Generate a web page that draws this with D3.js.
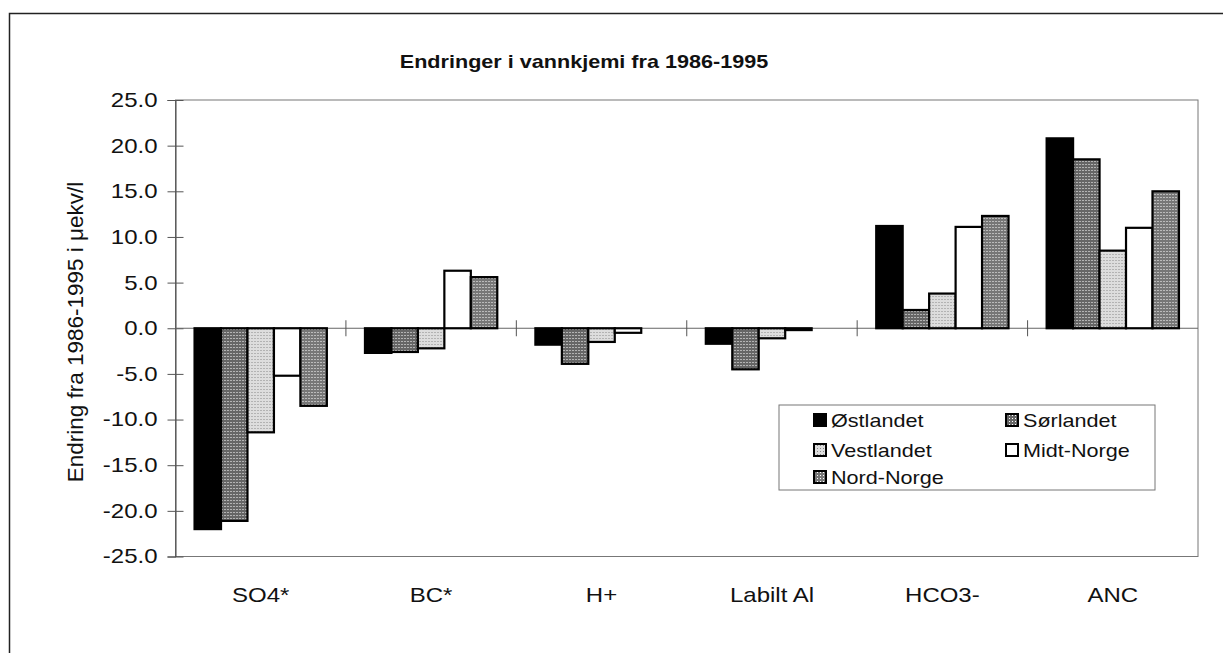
<!DOCTYPE html>
<html>
<head>
<meta charset="utf-8">
<script src="https://cdn.jsdelivr.net/npm/d3@7"></script>
<style>
  body { margin: 0; background: #fff; }
  text { font-family: "Liberation Sans", Arial, sans-serif; fill: #111; }
</style>
</head>
<body>
<div id="chart-area"></div>
<script>
// Data
const categories = ["SO4*", "BC*", "H+", "Labilt Al", "HCO3-", "ANC"]
const regions = ["Østlandet", "Sørlandet", "Vestlandet", "Midt-Norge", "Nord-Norge"]
const ostlandet = [-22.0, -2.7, -1.8, -1.7, 11.2, 20.8]
const sorlandet = [-21.1, -2.6, -3.9, -4.5, 2.0, 18.5]
const vestlandet = [-11.4, -2.2, -1.5, -1.1, 3.8, 8.5]
const midtNorge = [-5.2, 6.3, -0.5, -0.2, 11.1, 11.0]
const nordNorge = [-8.5, 5.6, 0.0, 0.0, 12.3, 15.0]
const yTicks = [-25, -20, -15, -10, -5, 0, 5, 10, 15, 20, 25]

const seriesValues = [ostlandet, sorlandet, vestlandet, midtNorge, nordNorge]

const W = 1223, H = 653
const margin = {left: 175.5, right: 25, top: 100, bottom: 96.5}
const width = W - margin.left - margin.right
const height = H - margin.top - margin.bottom
const sx = 1.2 // scan stretch of the glyphs

const svg = d3.select("#chart-area").append("svg")
    .attr("width", W)
    .attr("height", H)

// fill patterns (stippled greys)
const defs = svg.append("defs")
const stipple = (id, bg, dot) => {
    const p = defs.append("pattern")
        .attr("id", id)
        .attr("patternUnits", "userSpaceOnUse")
        .attr("width", 3).attr("height", 3)
    p.append("rect").attr("width", 3).attr("height", 3).attr("fill", bg)
    p.append("rect").attr("x", 1).attr("y", 1).attr("width", 1).attr("height", 1).attr("fill", dot)
}
stipple("pat-sor", "#666", "#fff")
stipple("pat-ves", "#ddd", "#888")
stipple("pat-nord", "#777", "#fff")
const fills = ["#000", "url(#pat-sor)", "url(#pat-ves)", "#fff", "url(#pat-nord)"]

// outer frame
svg.append("rect")
    .attr("x", 9.5).attr("y", 13.5)
    .attr("width", W + 20).attr("height", H + 20)
    .attr("fill", "none")
    .attr("stroke", "#222")
    .attr("stroke-width", 1.5)

// title
svg.append("text")
    .attr("transform", `translate(584, 68) scale(${sx},1)`)
    .attr("text-anchor", "middle")
    .attr("font-size", "18px")
    .attr("font-weight", "bold")
    .text("Endringer i vannkjemi fra 1986-1995")

const g = svg.append("g")
    .attr("transform", `translate(${margin.left}, ${margin.top})`)

// Scales
const x = d3.scaleBand().domain(categories).range([0, width]).paddingInner(0).paddingOuter(0)
const xs = d3.scaleBand().domain(regions).range([0, x.bandwidth()]).paddingInner(0).paddingOuter(0.72)
const y = d3.scaleLinear().domain([-25, 25]).range([height, 0])

// plot frame
g.append("rect")
    .attr("width", width).attr("height", height)
    .attr("fill", "none")
    .attr("stroke", "#777")
    .attr("stroke-width", 1)

// Y axis
const yAxis = g.append("g")
    .call(d3.axisLeft(y).tickValues(yTicks).tickFormat(d3.format(".1f")).tickSize(8))
yAxis.select(".domain").attr("stroke", "#444")
yAxis.selectAll(".tick line").attr("x2", 8).attr("x1", -8).attr("stroke", "#555")
yAxis.selectAll(".tick text")
    .attr("x", -18 / sx)
    .attr("transform", `scale(${sx},1)`)
    .attr("font-size", "20px")
    .attr("fill", "#111")
    .text(d => d3.format(".1f")(d).replace("−", "-"))

// zero line with category ticks
g.append("line")
    .attr("x1", 0).attr("x2", width)
    .attr("y1", y(0)).attr("y2", y(0))
    .attr("stroke", "#666")
g.selectAll(".cat-tick")
    .data(categories.slice(1))
    .enter().append("line")
    .attr("class", "cat-tick")
    .attr("x1", d => x(d)).attr("x2", d => x(d))
    .attr("y1", y(0) - 8).attr("y2", y(0) + 8)
    .attr("stroke", "#555")

// X labels
g.selectAll(".cat-label")
    .data(categories)
    .enter().append("text")
    .attr("class", "cat-label")
    .attr("transform", d => `translate(${x(d) + x.bandwidth() / 2}, ${height + 45}) scale(${sx},1)`)
    .attr("text-anchor", "middle")
    .attr("font-size", "20px")
    .text(d => d)

// Bars
regions.forEach((r, i) => {
    g.append("g").selectAll("rect")
        .data(seriesValues[i])
        .enter().append("rect")
        .attr("x", (d, j) => x(categories[j]) + xs(r))
        .attr("width", xs.bandwidth())
        .attr("y", d => y(Math.max(0, d)))
        .attr("height", d => Math.abs(y(d) - y(0)))
        .attr("fill", fills[i])
        .attr("stroke", "#000")
        .attr("stroke-width", d => d === 0 ? 0 : 2.2)
})

// Y label
svg.append("text")
    .attr("transform", "translate(83, 332) rotate(-90)")
    .attr("text-anchor", "middle")
    .attr("font-size", "22.5px")
    .text("Endring fra 1986-1995 i μekv/l")

// Legend
const legend = svg.append("g").attr("transform", "translate(779, 405)")
legend.append("rect")
    .attr("width", 376).attr("height", 85)
    .attr("fill", "#fff")
    .attr("stroke", "#777")
const legPos = [[34, 15], [226, 15], [34, 45], [226, 45], [34, 72]]
regions.forEach((r, i) => {
    const item = legend.append("g").attr("transform", `translate(${legPos[i][0]}, ${legPos[i][1]})`)
    item.append("rect")
        .attr("x", 1).attr("y", -6)
        .attr("width", 12).attr("height", 12)
        .attr("fill", fills[i])
        .attr("stroke", "#000")
        .attr("stroke-width", 2)
    item.append("text")
        .attr("transform", `translate(18, 7) scale(${sx},1)`)
        .attr("font-size", "18px")
        .text(r)
})
</script>
</body>
</html>
